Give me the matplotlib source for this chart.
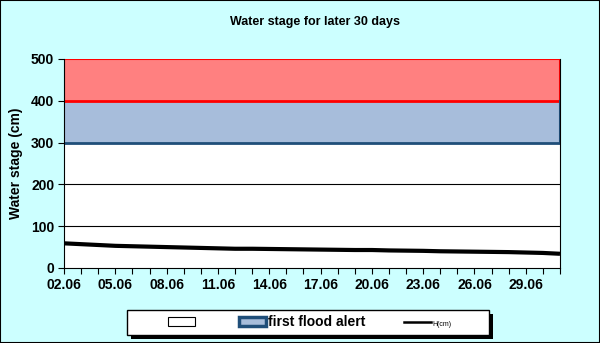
import numpy as np
import matplotlib.pyplot as plt
from matplotlib.patches import Patch, Rectangle
from matplotlib.lines import Line2D

plt.rcParams['font.family'] = ['Liberation Sans', 'DejaVu Sans']

days = ['02.06', '03.06', '04.06', '05.06', '06.06', '07.06', '08.06', '09.06',
        '10.06', '11.06', '12.06', '13.06', '14.06', '15.06', '16.06', '17.06',
        '18.06', '19.06', '20.06', '21.06', '22.06', '23.06', '24.06', '25.06',
        '26.06', '27.06', '28.06', '29.06', '30.06', '01.07']
H = [59, 57, 55, 53, 52, 51, 50, 49, 48, 47, 46, 46, 45.5, 45, 44.5, 44, 43.5,
     43, 43, 42, 41.5, 41, 40, 39.5, 39, 38.5, 38, 37, 36, 34]
safe_top = 300
alert_top = 400
danger_top = 500

bg = '#CCFFFF'
fig = plt.figure(figsize=(6, 3.43), dpi=100, facecolor=bg)
fig.patches.append(Rectangle((0, 0), 1, 1, transform=fig.transFigure,
                             fill=False, edgecolor='black', lw=1.5))
ax = fig.add_axes([0.1067, 0.2187, 0.8266, 0.6093])
x = np.arange(len(days))

ax.fill_between(x, 0, safe_top, color='white', lw=0)
ax.fill_between(x, safe_top, alert_top, color='#A7BDDB', lw=0)
ax.fill_between(x, alert_top, danger_top, color='#FF8080', lw=0)
ax.plot(x, [safe_top] * len(x), color='#1F4E79', lw=2)
ax.plot(x, [alert_top] * len(x), color='#FF0000', lw=2)
ax.plot(x, [danger_top] * len(x), color='#FF0000', lw=1.5)
ax.plot([x[-1], x[-1]], [alert_top, danger_top], color='#FF0000', lw=1.5)
ax.plot([x[-1], x[-1]], [safe_top, alert_top], color='#1F4E79', lw=1.5)
ax.plot([x[0], x[0]], [alert_top, danger_top], color='#FF0000', lw=1.5)
for g in [100, 200]:
    ax.axhline(g, color='black', lw=0.8)

ax.plot(x, H, color='black', lw=3, solid_capstyle='butt')

ax.set_xlim(0, len(days) - 1)
ax.set_ylim(0, 500)
ax.set_yticks([0, 100, 200, 300, 400, 500])
ax.set_xticks(x, minor=True)
ax.set_xticks(x[::3])
ax.set_xticklabels(days[::3])
ax.tick_params(axis='x', which='both', direction='out', length=4, width=0.8, pad=3)
ax.tick_params(axis='y', direction='out', length=4, width=0.8, pad=3)
for lab in ax.get_xticklabels() + ax.get_yticklabels():
    lab.set_fontweight('bold')
    lab.set_fontsize(10)
ax.spines['top'].set_visible(False)
ax.spines['right'].set_color('black')
ax.set_ylabel('Water stage (cm)', fontsize=10, fontweight='bold', labelpad=6)
fig.text(0.525, 0.936, 'Water stage for later 30 days', ha='center',
         va='center', fontsize=9, fontweight='bold')

# legend frame with hard black shadow
fig.patches.append(Rectangle((131 / 600, 4 / 343), 362 / 600, 25 / 343,
                             transform=fig.transFigure, facecolor='black',
                             edgecolor='none'))
fig.patches.append(Rectangle((127 / 600, 8 / 343), 362 / 600, 25 / 343,
                             transform=fig.transFigure, facecolor='white',
                             edgecolor='black', lw=1))

handles = [Patch(facecolor='white', edgecolor='black', lw=0.8),
           Patch(facecolor='#A7BDDB', edgecolor='#1F4E79', lw=2.5),
           Line2D([0], [0], color='black', lw=1.8)]
labels = [' ', 'first flood alert', 'H(cm)']
leg = fig.legend(handles, labels, loc='center', bbox_to_anchor=(0.516, 0.06),
                 ncol=3, frameon=False, fontsize=10, columnspacing=2.8,
                 handlelength=1.95, handletextpad=0.1, borderpad=0.2)
txts = leg.get_texts()
txts[1].set_fontweight('bold')
txts[2].set_fontsize(5)

plt.savefig('out.png', dpi=100, facecolor=bg)
